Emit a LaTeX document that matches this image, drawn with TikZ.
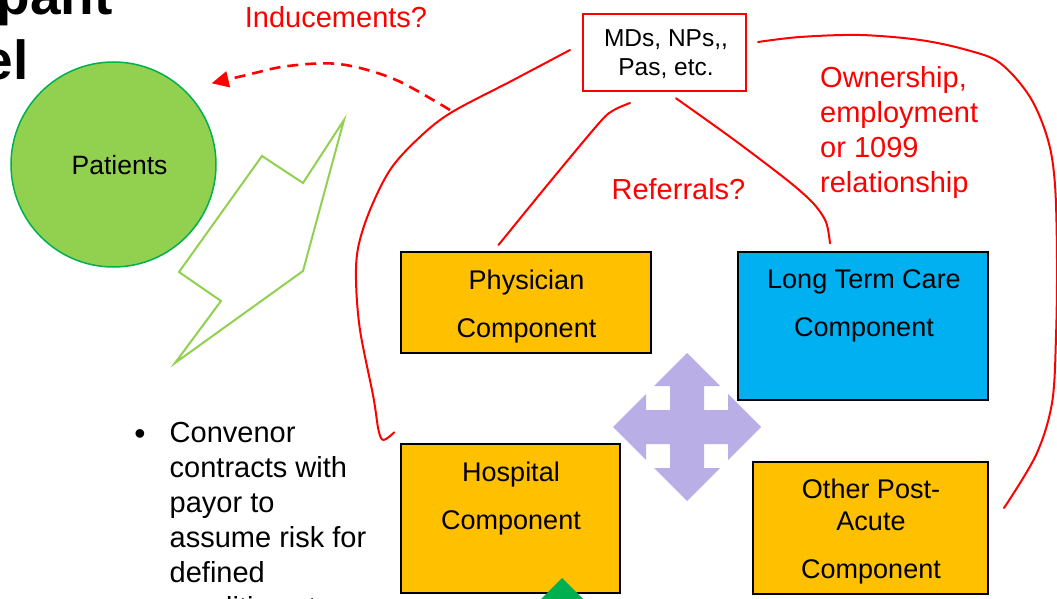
\documentclass[tikz,border=0pt]{standalone}
\usepackage{fontspec}
\setmainfont{Liberation Sans}
\usetikzlibrary{arrows.meta}
\definecolor{gold}{HTML}{FFC000}
\definecolor{skyb}{HTML}{00B0F0}
\definecolor{leaf}{HTML}{92D050}
\definecolor{leafdark}{HTML}{00B050}
\definecolor{lav}{RGB}{185,174,230}
\definecolor{pured}{RGB}{255,0,0}
\tikzset{
  comp/.style={draw=black, line width=1.8pt, inner sep=0pt},
  comptext/.style={inner sep=0pt, align=center, font=\fontsize{27}{32}\selectfont},
  redline/.style={draw=pured, line width=2pt, line cap=round},
  redtext/.style={text=pured, inner sep=0pt, font=\fontsize{29}{35}\selectfont},
  dasharrow/.style={draw=pured, line width=2.6pt, dash pattern=on 11pt off 7pt, -{Triangle[length=17pt,width=16pt]}},
  bolt/.style={draw=leaf, line width=2pt, line join=miter},
}
\begin{document}
\begin{tikzpicture}[x=1pt,y=-1pt]
\useasboundingbox (0,0) rectangle (1057,599);
\clip (0,0) rectangle (1057,599);
\fill[white] (0,0) rectangle (1057,599);

% title fragments
\node[anchor=base east, inner sep=0pt, font=\fontsize{55}{65}\selectfont\bfseries] (title1) at (113,15) {pant};
\node[anchor=base east, inner sep=0pt, font=\fontsize{55}{65}\selectfont\bfseries] (title2) at (29,80) {el};

% lightning bolt
\draw[bolt] (344,120) -- (303,183) -- (262,156) -- (179,272) -- (221,301) -- (175,363) -- (303,271) -- cycle;

% patients
\node[circle, fill=leaf, draw=leafdark, line width=1.5pt, minimum size=205pt, inner sep=0pt] (pat) at (113.5,164.5) {};
\node[anchor=base, inner sep=0pt, font=\fontsize{26.5}{32}\selectfont] (patT) at (119.5,175) {Patients};

% MDs box
\node[draw=pured, line width=1.8pt, fill=white, minimum width=163pt, minimum height=77pt, inner sep=0pt] (md) at (664.5,52.5) {};
\node[inner sep=0pt, align=center, font=\fontsize{24.5}{29}\selectfont] (mdT) at (666,54.5) {MDs, NPs,\kern0pt,\\Pas, etc.};

% component boxes
\node[comp, fill=gold, minimum width=250pt, minimum height=101pt] (phys) at (526,302.5) {};
\node[comp, fill=skyb, minimum width=250pt, minimum height=148pt] (ltc) at (863,326) {};
\node[comp, fill=gold, minimum width=219pt, minimum height=149pt] (hosp) at (510.5,518.5) {};
\node[comp, fill=gold, minimum width=235pt, minimum height=132pt] (opa) at (870.5,528) {};
\node[comptext] (physT) at (526.5,306.2) {Physician\\[16pt]Component};
\node[comptext] (ltcT) at (864,306) {Long Term Care\\[16pt]Component};
\node[comptext] (hospT) at (511,498.2) {Hospital\\[16pt]Component};
\node[comptext] (opaT) at (871,531.5) {Other Post-\\Acute\\[16pt]Component};

% connector end points
\coordinate (mdA) at (570,50);
\coordinate (hospA) at (394.3,432.3);
\coordinate (mdB) at (630,103);
\coordinate (physB) at (498.5,245);
\coordinate (mdC) at (676,98.3);
\coordinate (ltcC) at (830,243.3);
\coordinate (mdD) at (758,42);
\coordinate (opaD) at (1004,508);
\coordinate (dashS) at (450,110);
\coordinate (patE) at (211.7,83.3);

% red relationship curves
\draw[redline] plot[smooth, tension=0.55] coordinates {(mdA) (513.3,80) (450,113.3) (416.7,140) (390,170) (370,210) (358.3,246.7) (356,280) (360,330) (373.3,396.7) (378.5,430) (383.5,440) (hospA)};
\draw[redline] plot[smooth, tension=0.5] coordinates {(mdB) (614,110) (600,122) (549,183) (physB)};
\draw[redline] plot[smooth, tension=0.5] coordinates {(mdC) (733,139) (787,180) (813,203) (826,222) (ltcC)};
\draw[redline] plot[smooth, tension=0.55] coordinates {(mdD) (800,37) (860,35) (920,40) (967,50) (1000,63) (1030,97) (1048,140) (1055,185) (1057,260) (1056,337) (1052,403) (1036,455) (opaD)};

% inducements dashed arrow
\draw[dasharrow] plot[smooth, tension=0.55] coordinates {(dashS) (400,81.7) (360,68) (326.7,63.3) (283,66.7) (246.7,75) (patE)};

% red labels
\node[redtext, anchor=base] (induce) at (336,28) {Inducements?};
\node[redtext, anchor=base] (refer) at (678.5,199) {Referrals?};
\node[redtext, anchor=north west, align=left] (owner) at (820,66) {Ownership,\\employment\\or 1099\\relationship};

% four-way arrow
\begin{scope}[shift={(687,427)}]
\fill[lav] (0,-74) -- (33,-41) -- (17,-41) -- (17,-17) -- (41,-17) -- (41,-33) -- (74,0) -- (41,33) -- (41,17) -- (17,17) -- (17,41) -- (33,41) -- (0,74) -- (-33,41) -- (-17,41) -- (-17,17) -- (-41,17) -- (-41,33) -- (-74,0) -- (-41,-33) -- (-41,-17) -- (-17,-17) -- (-17,-41) -- (-33,-41) -- cycle;
\end{scope}

% green triangle at the bottom
\fill[leafdark] (562,578) -- (595,611) -- (529,611) -- cycle;

% bullet text
\node[anchor=base, inner sep=0pt, font=\fontsize{32}{35}\selectfont] (bul) at (140,444) {\textbullet};
\node[anchor=north west, inner sep=0pt, align=left, font=\fontsize{29}{35}\selectfont] (bulT) at (169.5,422) {Convenor\\contracts with\\payor to\\assume risk for\\defined\\conditions to};
\end{tikzpicture}
\end{document}
